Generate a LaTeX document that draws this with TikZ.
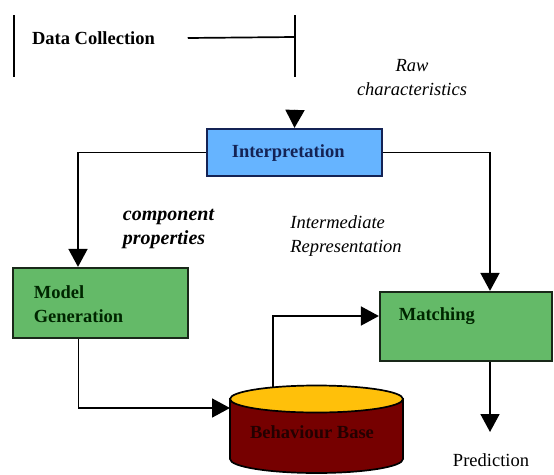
\documentclass[tikz,border=0pt]{standalone}
\usepackage{fontspec}
\setmainfont{Liberation Serif}
\usepackage{tikz}
\usetikzlibrary{arrows.meta}
\definecolor{interpblue}{RGB}{102,180,255}
\definecolor{interpline}{RGB}{20,35,85}
\definecolor{boxgreen}{RGB}{100,186,104}
\definecolor{greenline}{RGB}{25,40,25}
\definecolor{basetop}{RGB}{255,192,10}
\definecolor{basebody}{RGB}{118,0,0}

\begin{document}
\begin{tikzpicture}[
  x=1pt, y=-1pt,
  >={Triangle[length=18pt,width=19pt]},
  line width=1.7pt,
  box/.style={draw, line width=2.2pt, inner sep=0pt},
  boxtext/.style={font=\fontsize{18.5}{24}\selectfont\bfseries, align=left, inner sep=0pt},
  note/.style={font=\fontsize{18.5}{24}\selectfont\itshape, align=left, inner sep=0pt},
  bignote/.style={font=\fontsize{20}{24}\selectfont\bfseries\itshape, align=left, inner sep=0pt}
]
  \useasboundingbox (0,0) rectangle (554,474);

  % data collection bracket
  \node[boxtext] (collect) at (93.5,38) {Data Collection};
  \coordinate (collectend) at (295,37);
  \draw (14,15) -- (14,77);
  \draw (295,15) -- (295,77);
  \draw ([xshift=32pt]collect.east) -- (collectend);
  \node[note, align=center] (raw) at (412,78) {Raw\\characteristics};

  % boxes
  \node[box, fill=interpblue, draw=interpline, minimum width=175pt, minimum height=47pt] (interp) at (294.5,152.5) {};
  \node[boxtext, anchor=west, text=interpline] (interptxt) at (231,153) {Interpretation};
  \node[box, fill=boxgreen, draw=greenline, minimum width=175pt, minimum height=70pt] (model) at (100.5,303) {};
  \node[boxtext, anchor=west, text=black!85!green] (modeltxt) at (33,304) {Model\\Generation};
  \node[box, fill=boxgreen, draw=greenline, minimum width=172pt, minimum height=69pt] (match) at (466,326.5) {};
  \node[boxtext, anchor=west, text=black!85!green] (matchtxt) at (398,316) {Matching};

  \node[bignote] (comp) at (168.5,229) {component\\properties};
  \node[note] (inter) at (346,236) {Intermediate\\Representation};

  % behaviour base cylinder
  \fill[basebody, draw=black, line width=1.7pt] (230,399) -- (230,459)
    arc[start angle=180, end angle=360, x radius=86.5pt, y radius=14pt]
    -- (403,399) -- cycle;
  \draw[fill=basetop, line width=1.7pt] (316.5,399) ellipse[x radius=86.5pt, y radius=13.5pt];
  \node[boxtext, text=black!70!basebody] (base) at (312,432) {Behaviour Base};
  \coordinate (baseW) at (230,408);
  \coordinate (baseN) at (273,387);

  \node[font=\fontsize{18.5}{24}\selectfont, inner sep=0pt] (predict) at (491,460) {Prediction};
  \coordinate (predtip) at (490,432);
  \coordinate (rawtip) at (295,110);

  % connectors
  \draw[->] (rawtip) -- (interp.north);
  \draw[->] (interp.west) -| ([xshift=-22.5pt]model.north);
  \draw[->] (interp.east) -| ([xshift=24pt]match.north);
  \draw[->] ([xshift=-22pt]model.south) |- (baseW);
  \draw[->] (baseN) |- ([yshift=10.5pt]match.west);
  \draw[->] ([xshift=24pt]match.south) -- (predtip);
\end{tikzpicture}
\end{document}
